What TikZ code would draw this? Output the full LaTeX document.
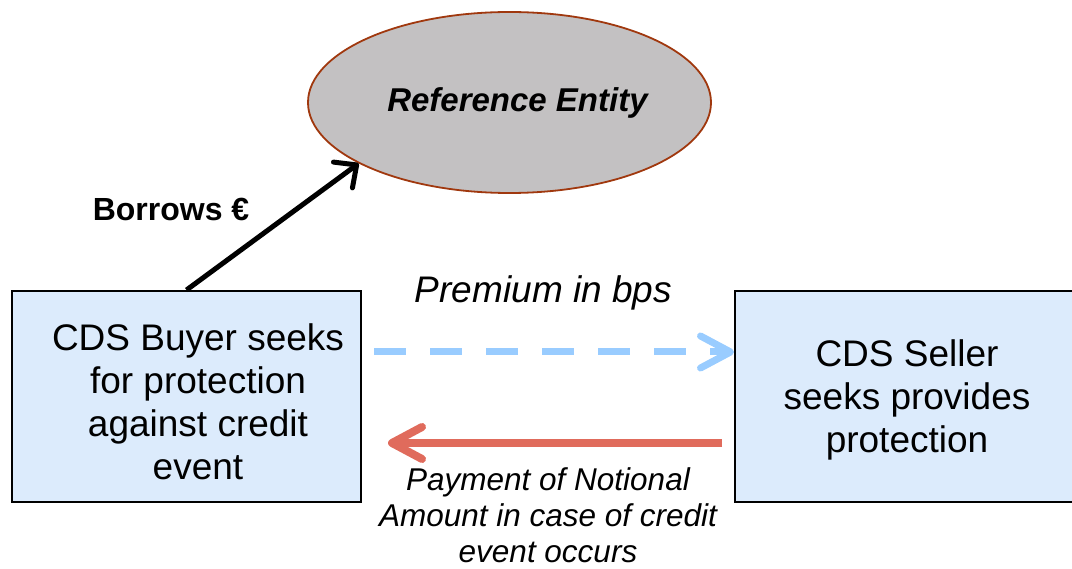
\documentclass[tikz,border=0pt]{standalone}
\usepackage{fontspec}
\setmainfont{Liberation Sans}
\usetikzlibrary{shapes.geometric,arrows.meta}
\definecolor{boxfill}{HTML}{DCEBFC}
\definecolor{ellfill}{HTML}{C3C1C2}
\definecolor{elldraw}{HTML}{A0380E}
\definecolor{dashblue}{HTML}{99CCFF}
\definecolor{payred}{HTML}{E06B5C}
\tikzset{
  partybox/.style={draw=black, line width=2pt, fill=boxfill, rectangle, inner sep=0pt},
  boxtext/.style={inner sep=0pt, align=center, font=\fontsize{37}{43}\selectfont},
  entity/.style={ellipse, draw=elldraw, line width=1.8pt, fill=ellfill, inner sep=0pt,
    minimum width=403pt, minimum height=181pt},
  labeltext/.style={inner sep=0pt, align=center},
}
\begin{document}
\begin{tikzpicture}[x=1pt,y=-1pt]
\useasboundingbox (0,0) rectangle (1072,569);
% boxes
\node[partybox, minimum width=349pt, minimum height=211pt] (buyer) at (186.5,396.5) {};
\node[partybox, minimum width=345pt, minimum height=211pt] (seller) at (907.5,396.5) {};
\node[boxtext] (buyertext) at (198,402) {CDS Buyer seeks\\for protection\\against credit\\event};
\node[boxtext] (sellertext) at (907,400) {CDS Seller\\seeks provides\\protection};
% ellipse
\node[entity] (ref) at (509.5,102.5) {};
\node[labeltext, anchor=base, font=\fontsize{33}{38}\selectfont\bfseries\itshape] (reftext) at (517.5,112) {Reference Entity};
% labels
\node[labeltext, anchor=base, font=\fontsize{32}{37}\selectfont\bfseries] (borrows) at (171,221) {Borrows €};
\node[labeltext, anchor=base, font=\fontsize{37}{43}\selectfont\itshape] (premium) at (543.5,303) {Premium in bps};
\node[labeltext, font=\fontsize{31.5}{36}\selectfont\itshape] (payment) at (548,515) {Payment of Notional\\Amount in case of credit\\event occurs};
% connectors
\draw[line width=5pt, -{Straight Barb[length=17pt, width=32pt, round]}] (buyer.north) -- (ref.202);
\coordinate (premstart) at (374,352);
\draw[dashblue, line width=7pt, dash pattern=on 32pt off 24pt,
  -{Straight Barb[length=30pt, width=32pt, round]}] (premstart) -- (premstart -| seller.west);
\coordinate (paystart) at (722,443);
\coordinate (payend) at (388,443);
\draw[payred, line width=8pt, -{Straight Barb[length=30pt, width=32pt, round]}] (paystart) -- (payend);
\end{tikzpicture}
\end{document}
